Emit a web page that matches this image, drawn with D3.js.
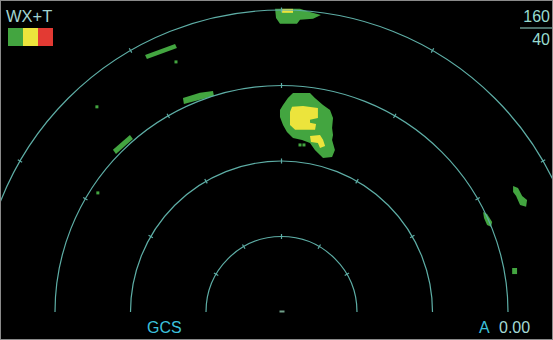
<!DOCTYPE html>
<html>
<head>
<meta charset="utf-8">
<script src="https://cdn.jsdelivr.net/npm/d3@7"></script>
<style>
  html, body { margin: 0; padding: 0; background: #000; }
  svg { display: block; }
  text { font-family: "Liberation Sans", Arial, sans-serif; }
</style>
</head>
<body>
<svg id="chart" width="553" height="340"></svg>
<script>
// ---- data (nautical miles, east / north of own aircraft) ----
const rangeMax = 160;
const ringRanges = [40, 80, 120, 160];
const tickBearings = [-60, -30, 0, 30, 60];
const legendLevels = ["green", "yellow", "red"];
const modeLabel = "WX+T";
const rangeLabels = ["160", "40"];
const bottomLeftLabel = "GCS";
const tiltLabel = "A";
const tiltValue = "0.00";

// weather returns: polygons [east, north] with level 1 (green) / 2 (yellow)
const level1Cells = [
  // main cell
  [[6.1,116.0],[15.1,116.0],[17.7,113.4],[22.0,109.7],[25.7,107.0],[27.3,102.8],[26.8,97.5],[27.3,93.8],[26.8,91.1],[28.3,85.8],[26.8,82.1],[22.0,81.6],[20.4,83.2],[17.7,85.8],[15.1,89.5],[10.9,91.1],[6.1,92.2],[2.9,95.4],[0.8,99.1],[-0.8,103.3],[-0.8,107.0],[0.8,109.7],[3.4,113.4]],
  // top, at max range
  [[-3.4,160.6],[9.8,160.6],[15.1,159.0],[20.9,157.4],[16.7,155.3],[9.8,154.8],[8.2,152.7],[-0.8,152.7],[-2.9,155.8]],
  // left streaks
  [[-72.3,136.2],[-56.4,142.0],[-55.4,139.9],[-71.3,134.1]],
  [[-52.2,113.4],[-43.2,116.1],[-36.3,117.1],[-35.8,114.5],[-43.2,112.4],[-51.7,110.2]],
  [[-89.3,85.9],[-80.3,93.8],[-78.7,91.7],[-87.7,83.7]],
  // right side
  [[122.7,66.8],[125.3,65.7],[127.5,61.5],[130.1,59.4],[129.6,55.7],[126.4,56.7],[124.3,61.5],[122.7,63.6]],
  [[106.8,53.0],[108.9,51.9],[111.6,47.7],[111.0,45.1],[108.9,46.1],[107.3,49.8]],
  [[122.2,23.3],[124.8,23.3],[124.8,20.1],[122.2,20.1]]
];
const level2Cells = [
  [[5.6,108.7],[11.4,109.2],[19.3,108.1],[19.3,102.8],[15.1,101.8],[15.1,100.2],[18.3,99.6],[17.8,96.5],[7.2,96.5],[4.5,99.1],[4.5,106.0]],
  [[15.1,93.3],[20.4,93.8],[22.0,91.2],[23.1,88.0],[20.4,86.9],[19.3,89.6],[15.6,90.1]],
  [[0.3,160.6],[6.1,160.6],[6.1,158.5],[0.3,158.5]]
];
// isolated small returns [east, north]
const level1Dots = [[-55.9,132.5],[-97.8,108.7],[-97.3,63.1],[9.8,88.5],[11.9,88.5]];

// ---- layout ----
const W = 553, H = 340;
const cx = 281.5, cy = 312, R = 302;
const colors = { green: "#43a540", yellow: "#ece43c", red: "#e33a33" };
const ringColor = "#5eaea6";

const svg = d3.select("#chart");
svg.append("rect").attr("width", W).attr("height", H).attr("fill", "#000");

const x = d3.scaleLinear().domain([-rangeMax, rangeMax]).range([cx - R, cx + R]);
const y = d3.scaleLinear().domain([0, rangeMax]).range([cy, cy - R]);
const r = d3.scaleLinear().domain([0, rangeMax]).range([0, R]);

const line = d3.line().x(d => x(d[0])).y(d => y(d[1])).curve(d3.curveLinearClosed);

// weather
const wx = svg.append("g");
wx.selectAll("path.l1").data(level1Cells).join("path")
  .attr("d", line).attr("fill", colors.green);
wx.selectAll("rect.d1").data(level1Dots).join("rect")
  .attr("x", d => x(d[0]) - 1.5).attr("y", d => y(d[1]) - 1.5)
  .attr("width", 3).attr("height", 3).attr("fill", colors.green);
wx.selectAll("path.l2").data(level2Cells).join("path")
  .attr("d", line).attr("fill", colors.yellow);

// range rings
const rings = svg.append("g").attr("transform", `translate(${cx},${cy})`);
ringRanges.forEach(rr => {
  const p = d3.path();
  p.arc(0, 0, r(rr), Math.PI, 2 * Math.PI);
  rings.append("path").attr("d", p.toString())
    .attr("fill", "none").attr("stroke", ringColor).attr("stroke-width", 1.2);
  tickBearings.forEach(b => {
    const a = (b - 90) * Math.PI / 180;
    const ri = r(rr) - 2.5, ro = r(rr) + 2.5;
    rings.append("line")
      .attr("x1", ri * Math.cos(a)).attr("y1", ri * Math.sin(a))
      .attr("x2", ro * Math.cos(a)).attr("y2", ro * Math.sin(a))
      .attr("stroke", ringColor).attr("stroke-width", 1.2);
  });
});
// own-ship mark
svg.append("line").attr("x1", x(0) - 2).attr("x2", x(0) + 3)
  .attr("y1", y(0) - 0.5).attr("y2", y(0) - 0.5)
  .attr("stroke", "#6f9f88").attr("stroke-width", 2);

// labels
svg.append("text").attr("x", 6).attr("y", 22).attr("font-size", 16.5)
  .attr("fill", "#a2d4d2").text(modeLabel);
svg.selectAll("rect.leg").data(legendLevels).join("rect")
  .attr("x", (d, i) => 8 + i * 15).attr("y", 28)
  .attr("width", 15).attr("height", 18)
  .attr("fill", d => colors[d]);

svg.append("text").attr("x", 550).attr("y", 22).attr("text-anchor", "end")
  .attr("font-size", 16).attr("fill", "#98dcd0").text(rangeLabels[0]);
svg.append("line").attr("x1", 520).attr("x2", 552).attr("y1", 28).attr("y2", 28)
  .attr("stroke", "#98dcd0").attr("stroke-width", 1);
svg.append("text").attr("x", 550).attr("y", 45).attr("text-anchor", "end")
  .attr("font-size", 16).attr("fill", "#98dcd0").text(rangeLabels[1]);

svg.append("text").attr("x", 147).attr("y", 333)
  .attr("font-size", 16).attr("fill", "#3cc0dc").text(bottomLeftLabel);
svg.append("text").attr("x", 479).attr("y", 333)
  .attr("font-size", 16).attr("fill", "#3cc0dc").text(tiltLabel);
svg.append("text").attr("x", 499).attr("y", 333)
  .attr("font-size", 16).attr("fill", "#a4dad6").text(tiltValue);

// frame
svg.append("rect").attr("x", 0.5).attr("y", 0.5).attr("width", W - 1).attr("height", H - 1)
  .attr("fill", "none").attr("stroke", "#8a8a8a").attr("stroke-width", 1);
</script>
</body>
</html>
